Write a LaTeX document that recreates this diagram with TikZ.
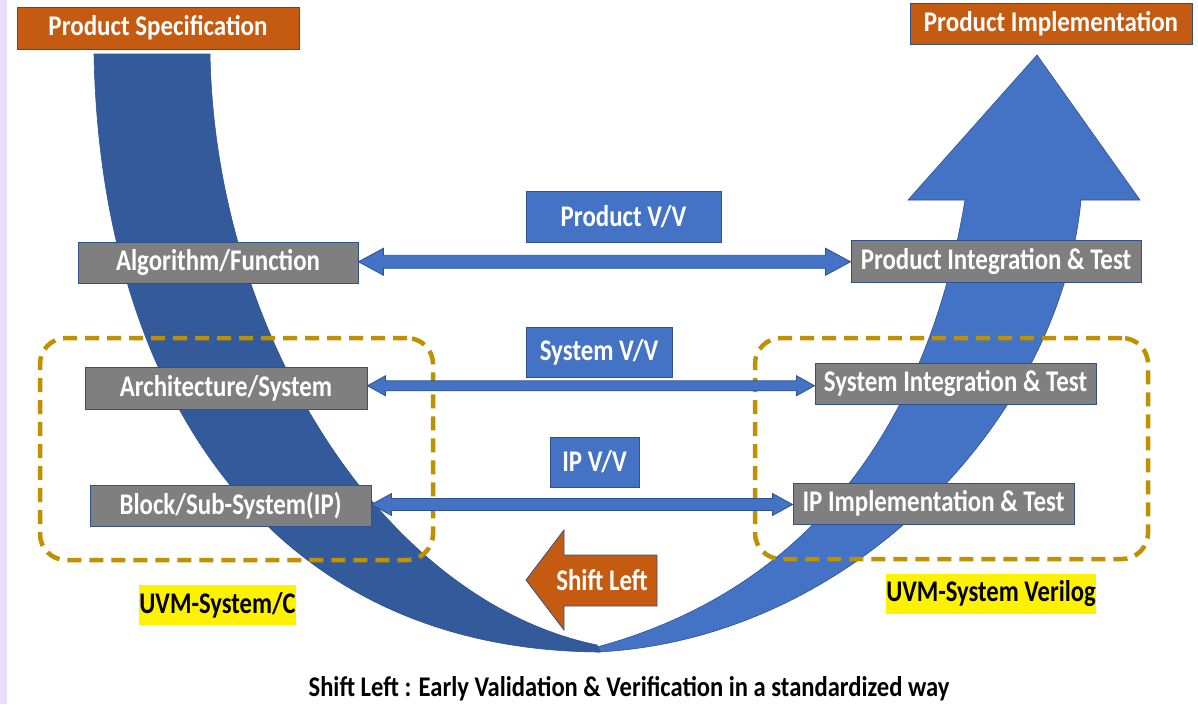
\documentclass[tikz,border=0pt]{standalone}
\usepackage{fontspec}
\usepackage{graphicx}
\setmainfont{Carlito}
\usetikzlibrary{calc}
\definecolor{specorange}{HTML}{C55A11}
\definecolor{edgenavy}{HTML}{2F528F}
\definecolor{banddark}{HTML}{335A9B}
\definecolor{bandlight}{HTML}{4472C4}
\definecolor{boxgray}{HTML}{7F7F7F}
\definecolor{groupgold}{HTML}{BF9000}
\definecolor{edgelavender}{RGB}{234,220,246}
% narrow setting of the labels
\newcommand\narrow[2][0.83]{\scalebox{#1}[1]{#2}}
\newcommand\vvlink[5]{%
  \path[vvarrow] let \p1=(#1.east), \p2=(#2.west), \n1={0.5*(\y1+\y2)} in
    (\x1,\n1+0pt) -- (\x1+#5pt,\n1+#4pt) -- (\x1+#5pt,\n1+#3pt) -- (\x2-#5pt,\n1+#3pt)
    -- (\x2-#5pt,\n1+#4pt) -- (\x2,\n1+0pt) -- (\x2-#5pt,\n1-#4pt) -- (\x2-#5pt,\n1-#3pt)
    -- (\x1+#5pt,\n1-#3pt) -- (\x1+#5pt,\n1-#4pt) -- cycle;}
\begin{document}
\begin{tikzpicture}[x=1pt,y=-1pt,
  boxbase/.style={draw=edgenavy,line width=1pt,inner sep=0pt,text=white,
    font=\fontsize{30}{32}\selectfont\bfseries},
  headbox/.style={boxbase,fill=specorange,font=\fontsize{28.5}{31}\selectfont\bfseries},
  graybox/.style={boxbase,fill=boxgray},
  vvbox/.style={boxbase,fill=bandlight},
  uvmtag/.style={fill=yellow,inner sep=0pt,text=black,
    font=\fontsize{30}{32}\selectfont\bfseries},
  groupbox/.style={draw=groupgold,line width=4.5pt,dash pattern=on 14pt off 8pt,
    rounded corners=26pt,inner sep=0pt},
  vvarrow/.style={fill=bandlight,draw=edgenavy,line width=0.8pt},
  bandedge/.style={draw=edgenavy,line width=0.6pt}]
\useasboundingbox (0,0) rectangle (1198,704);
\fill[white] (0,0) rectangle (1198,704);
\fill[edgelavender] (0,0) rectangle (7,704);

% descending (specification) band and ascending (implementation) arrow
\filldraw[bandlight,bandedge] (597,652) .. controls (850,640) and (1060,420) .. (1081,200)
  -- (1140,200) -- (1037,55) -- (908,200) -- (965,200)
  .. controls (945,320) and (880,570) .. (597,647) -- cycle;
\filldraw[banddark,bandedge] (94,54) .. controls (100,380) and (260,650) .. (600,652)
  -- (597,645) .. controls (380,600) and (215,330) .. (210,54) -- cycle;

% UVM groups
\node[groupbox,minimum width=393pt,minimum height=222pt] (grpc) at (236.5,449) {};
\node[groupbox,minimum width=393pt,minimum height=221pt] (grpsv) at (951.5,448.5) {};

% stage boxes
\node[headbox,minimum width=282pt,minimum height=42pt] (spec) at (158,28) {\narrow[0.877]{Product Specification}};
\node[headbox,minimum width=282pt,minimum height=41pt] (impl) at (1051,23.5) {\narrow[0.877]{Product Implementation}};
\node[graybox,minimum width=280pt,minimum height=41pt] (algo) at (218,262.5) {\narrow{Algorithm/Function}};
\node[graybox,minimum width=290pt,minimum height=42pt] (pint) at (996,261) {\narrow{Product Integration \& Test}};
\node[graybox,minimum width=282pt,minimum height=42pt] (arch) at (226,388) {\narrow{Architecture/System}};
\node[graybox,minimum width=281pt,minimum height=41pt] (sint) at (955.5,383.5) {\narrow{System Integration \& Test}};
\node[graybox,minimum width=281pt,minimum height=41pt] (block) at (230.5,505.5) {\narrow{Block/Sub-System(IP)}};
\node[graybox,minimum width=281pt,minimum height=41pt] (ipint) at (933.5,503.5) {\narrow{IP Implementation \& Test}};

% V/V links
\vvlink{algo}{pint}{6.5}{13.5}{25}
\vvlink{arch}{sint}{5}{10}{18}
\vvlink{block}{ipint}{6}{11}{20}
\node[vvbox,minimum width=195pt,minimum height=51pt] (pvv) at (623.5,216.5) {\narrow{Product V/V}};
\node[vvbox,minimum width=146pt,minimum height=50pt] (svv) at (599,352) {\narrow{System V/V}};
\node[vvbox,minimum width=89pt,minimum height=50pt] (ipvv) at (594.5,462) {\narrow{IP V/V}};

% methodology tags
\node[uvmtag,minimum width=157pt,minimum height=40pt] (uvmc) at (217.5,605) {\narrow[0.82]{UVM-System/C}};
\node[uvmtag,minimum width=210pt,minimum height=40pt] (uvmsv) at (991,594) {\narrow[0.82]{UVM-System Verilog}};

% shift-left arrow
\filldraw[fill=specorange,draw=edgenavy,line width=0.8pt] (526,580) -- (564,530) -- (564,555)
  -- (657,555) -- (657,606) -- (564,606) -- (564,630) -- cycle;
\node[text=white,font=\fontsize{30}{32}\selectfont\bfseries] (shift) at (602,580) {\narrow{Shift Left}};

\node[anchor=base,inner sep=0pt,text=black,font=\fontsize{28.5}{31}\selectfont\bfseries] (caption) at (629,696)
  {\narrow[0.863]{Shift Left : Early Validation \& Verification in a standardized way}};
\end{tikzpicture}
\end{document}
